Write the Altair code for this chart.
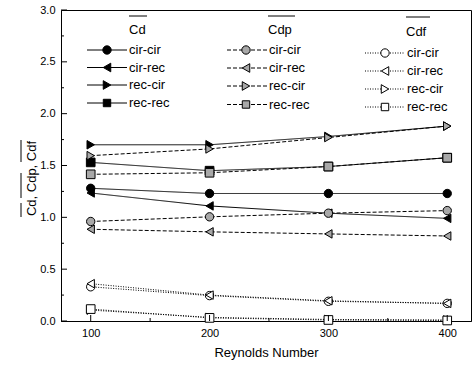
import altair as alt
import pandas as pd

FONT = "Liberation Sans"

reynolds = [100, 200, 300, 400]
groups = ["Cd", "Cdp", "Cdf"]
cases = ["cir-cir", "cir-rec", "rec-cir", "rec-rec"]

cd_cir_cir = [1.28, 1.23, 1.23, 1.23]
cd_cir_rec = [1.235, 1.11, 1.04, 0.99]
cd_rec_cir = [1.70, 1.70, 1.78, 1.88]
cd_rec_rec = [1.53, 1.45, 1.49, 1.575]

cdp_cir_cir = [0.96, 1.005, 1.04, 1.065]
cdp_cir_rec = [0.885, 0.86, 0.84, 0.82]
cdp_rec_cir = [1.595, 1.66, 1.77, 1.88]
cdp_rec_rec = [1.415, 1.43, 1.49, 1.575]

cdf_cir_cir = [0.33, 0.245, 0.19, 0.17]
cdf_cir_rec = [0.36, 0.25, 0.195, 0.17]
cdf_rec_cir = [0.105, 0.035, 0.015, 0.01]
cdf_rec_rec = [0.115, 0.03, 0.01, 0.005]

series = {
    ("Cd", "cir-cir"): cd_cir_cir, ("Cd", "cir-rec"): cd_cir_rec,
    ("Cd", "rec-cir"): cd_rec_cir, ("Cd", "rec-rec"): cd_rec_rec,
    ("Cdp", "cir-cir"): cdp_cir_cir, ("Cdp", "cir-rec"): cdp_cir_rec,
    ("Cdp", "rec-cir"): cdp_rec_cir, ("Cdp", "rec-rec"): cdp_rec_rec,
    ("Cdf", "cir-cir"): cdf_cir_cir, ("Cdf", "cir-rec"): cdf_cir_rec,
    ("Cdf", "rec-cir"): cdf_rec_cir, ("Cdf", "rec-rec"): cdf_rec_rec,
}

y_major = [0, 0.5, 1.0, 1.5, 2.0, 2.5, 3.0]
y_minor = [0.25, 0.75, 1.25, 1.75, 2.25, 2.75]
x_major = [100, 200, 300, 400]
x_minor = [150, 250, 350]

rows = []
for (g, c), vals in series.items():
    for r, v in zip(reynolds, vals):
        rows.append({"group": g, "case": c, "series": g + " " + c, "Re": r, "val": v})
df = pd.DataFrame(rows)

W, H = 410, 311
shapes = ["circle", "triangle-left", "triangle-right", "square"]
fills = ["black", "#a8a8a8", "white"]
dashes = [[1, 0], [4, 2], [1, 1.5]]
sizes = {"circle": 70, "triangle-left": 75, "triangle-right": 75, "square": 55}

xs = alt.Scale(domain=[75, 420], nice=False, zero=False)
ys = alt.Scale(domain=[0, 3], nice=False, zero=False)

x_enc = alt.X("Re:Q", scale=xs, axis=alt.Axis(
    values=x_major, ticks=False, grid=False, title="Reynolds Number",
    labelFont=FONT, labelFontSize=11, labelColor="black", labelPadding=6,
    titleFont=FONT, titleFontSize=13, titleFontWeight="normal", titleColor="black",
    titlePadding=8, domainColor="black", domainWidth=1))
y_enc = alt.Y("val:Q", scale=ys, axis=alt.Axis(
    values=y_major, ticks=False, grid=False, title=None, format=".1f",
    labelFont=FONT, labelFontSize=11, labelColor="black", labelPadding=6,
    domainColor="black", domainWidth=1))

base = alt.Chart(df)
lines = base.mark_line(strokeWidth=1, color="black").encode(
    x=x_enc, y=y_enc, detail="series:N",
    strokeDash=alt.StrokeDash("group:N", scale=alt.Scale(domain=groups, range=dashes), legend=None),
)
points = base.mark_point(filled=True, stroke="black", strokeWidth=1, opacity=1).encode(
    x=alt.X("Re:Q", scale=xs), y=alt.Y("val:Q", scale=ys),
    shape=alt.Shape("case:N", scale=alt.Scale(domain=cases, range=shapes), legend=None),
    fill=alt.Fill("group:N", scale=alt.Scale(domain=groups, range=fills), legend=None),
    size=alt.Size("case:N", scale=alt.Scale(domain=cases, range=[sizes[s] for s in shapes]), legend=None),
)

layers = [lines, points]

# inward ticks
tick_y_major = alt.Chart(pd.DataFrame({"v": y_major})).mark_rule(color="black").encode(
    y=alt.Y("v:Q", scale=ys), x=alt.value(0), x2=alt.value(6))
tick_y_minor = alt.Chart(pd.DataFrame({"v": y_minor})).mark_rule(color="black").encode(
    y=alt.Y("v:Q", scale=ys), x=alt.value(0), x2=alt.value(3))
tick_x_major = alt.Chart(pd.DataFrame({"v": x_major})).mark_rule(color="black").encode(
    x=alt.X("v:Q", scale=xs), y=alt.value(H), y2=alt.value(H - 6))
tick_x_minor = alt.Chart(pd.DataFrame({"v": x_minor})).mark_rule(color="black").encode(
    x=alt.X("v:Q", scale=xs), y=alt.value(H), y2=alt.value(H - 3))
layers += [tick_y_major, tick_y_minor, tick_x_major, tick_x_minor]

one = pd.DataFrame({"a": [0]})

# custom legend (three columns)
leg_cols = [
    dict(l1=26, l2=66, mx=46, tx=68, ys=[40, 57.5, 75, 93], ttx=68, tty=20, o1=68, o2=86, oy=6),
    dict(l1=166, l2=206, mx=185, tx=208, ys=[40, 58, 76, 94.5], ttx=207, tty=20, o1=207, o2=234, oy=6),
    dict(l1=304, l2=344, mx=324, tx=346, ys=[43, 61, 79, 97], ttx=345, tty=22, o1=345, o2=369, oy=7),
]
for gi, (g, col) in enumerate(zip(groups, leg_cols)):
    layers.append(alt.Chart(one).mark_text(align="left", baseline="middle", font=FONT,
                                           fontSize=13, color="black").encode(
        x=alt.value(col["ttx"]), y=alt.value(col["tty"]), text=alt.value(g)))
    layers.append(alt.Chart(one).mark_rule(color="black", strokeWidth=1).encode(
        x=alt.value(col["o1"]), x2=alt.value(col["o2"]), y=alt.value(col["oy"])))
    for ci, c in enumerate(cases):
        yy = col["ys"][ci]
        layers.append(alt.Chart(one).mark_rule(color="black", strokeWidth=1,
                                               strokeDash=dashes[gi]).encode(
            x=alt.value(col["l1"]), x2=alt.value(col["l2"]), y=alt.value(yy)))
        layers.append(alt.Chart(one).mark_point(filled=True, stroke="black", strokeWidth=1,
                                                opacity=1, shape=shapes[ci], fill=fills[gi],
                                                size=sizes[shapes[ci]]).encode(
            x=alt.value(col["mx"]), y=alt.value(yy)))
        layers.append(alt.Chart(one).mark_text(align="left", baseline="middle", font=FONT,
                                               fontSize=13, color="black").encode(
            x=alt.value(col["tx"]), y=alt.value(yy), text=alt.value(c)))

# y-axis title with overlines
layers.append(alt.Chart(one).mark_text(angle=270, align="center", baseline="middle",
                                       font=FONT, fontSize=13, color="black").encode(
    x=alt.value(-29), y=alt.value(168.5), text=alt.value("Cd, Cdp, Cdf")))
for (a, b) in [(193, 207), (163, 188), (130, 152)]:
    layers.append(alt.Chart(one).mark_rule(color="black", strokeWidth=1).encode(
        x=alt.value(-40), y=alt.value(a), y2=alt.value(b)))

chart = alt.layer(*layers).properties(
    width=W, height=H,
    background="white",
    padding={"left": 61, "top": 10, "right": 1, "bottom": 46},
    autosize=alt.AutoSizeParams(type="none"),
).configure_view(stroke="black", strokeWidth=1)

chart.save("out.html", embed_options={"renderer": "svg", "actions": False})
